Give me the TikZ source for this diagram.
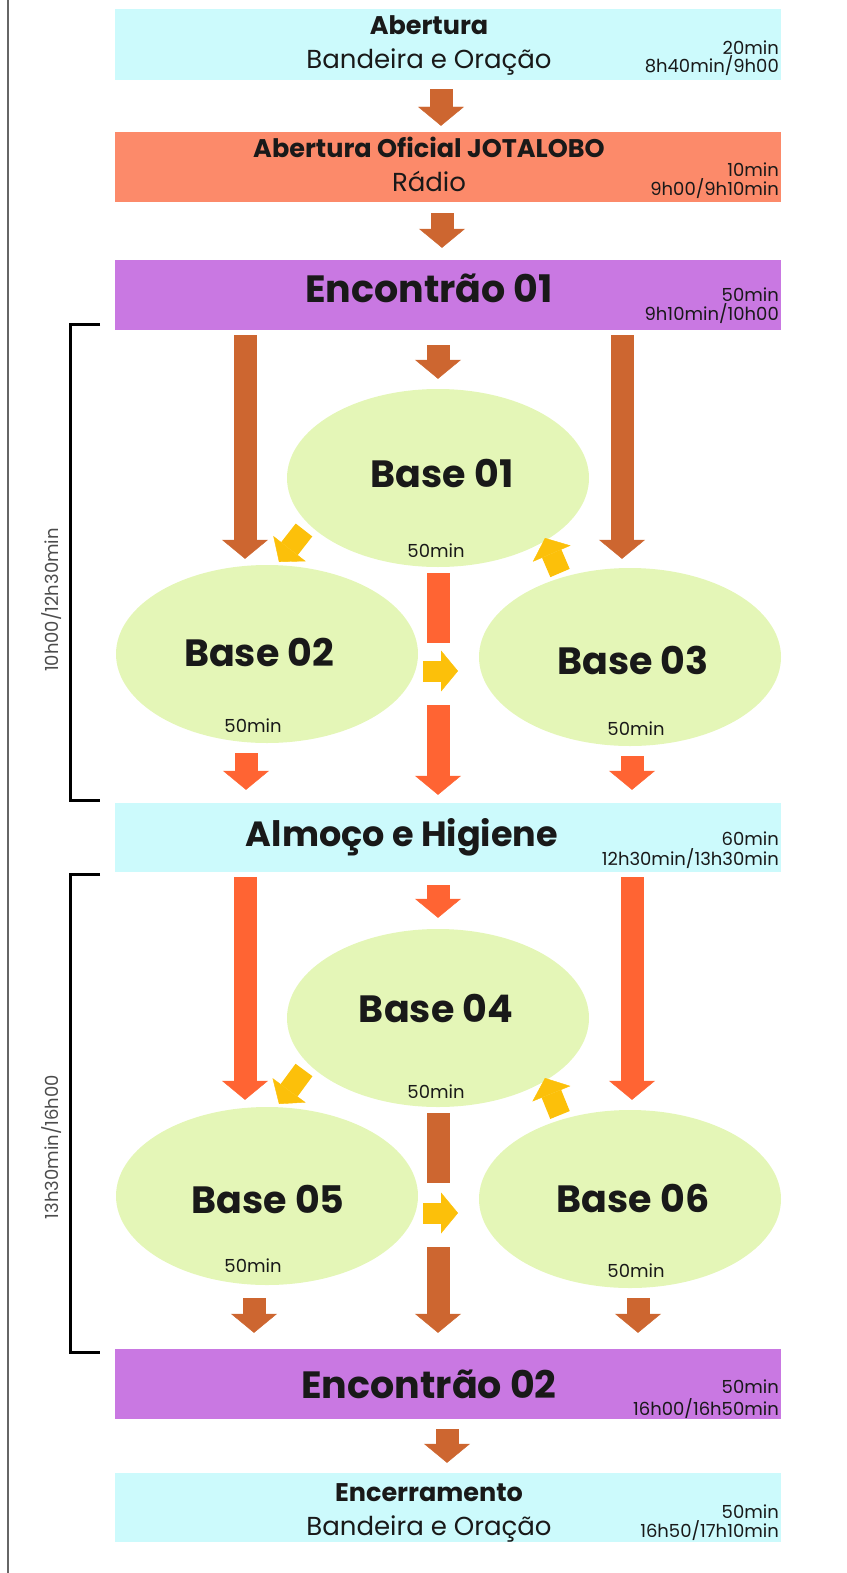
\documentclass[tikz,border=0pt]{standalone}
\usepackage{fontspec}
\setmainfont{Poppins}
\usetikzlibrary{arrows.meta,shapes.geometric}

\definecolor{cyanbox}{HTML}{CCFAFC}
\definecolor{salmonbox}{HTML}{FC8A6A}
\definecolor{purplebox}{HTML}{C978E2}
\definecolor{greenbase}{HTML}{E4F6B7}
\definecolor{brownarrow}{HTML}{CD6630}
\definecolor{redarrow}{HTML}{FF6433}
\definecolor{yellowarrow}{HTML}{FCC00A}

\begin{document}
\begin{tikzpicture}[x=1pt, y=-1pt]
\useasboundingbox (0,0) rectangle (846,1573);
\draw[black!60, line width=1.5pt] (8,0) -- (8,1573);

% Caixas
\begin{scope}[
		every node/.style = {shape = rectangle, inner sep = 0pt,
		minimum width = 666pt, minimum height = 70pt}]
	\node[fill = cyanbox, minimum height = 71pt] (open) at (448,44.5) {};
	\node[fill = salmonbox] (jota) at (448,167) {};
	\node[fill = purplebox] (enc1) at (448,295) {};
	\node[fill = cyanbox, minimum height = 69pt] (almoco) at (448,837.5) {};
	\node[fill = purplebox] (enc2) at (448,1384) {};
	\node[fill = cyanbox, minimum height = 69pt] (close) at (448,1507.5) {};
\end{scope}

% Bases
\begin{scope}[
		every node/.style = {shape = ellipse, fill = greenbase, inner sep = 0pt,
		minimum width = 302pt, minimum height = 178pt}]
	\node (b1) at (438,478) {};
	\node (b2) at (267,654) {};
	\node (b3) at (630,657) {};
	\node (b4) at (438,1018) {};
	\node (b5) at (267,1196) {};
	\node (b6) at (630,1199) {};
\end{scope}

% Textos
\begin{scope}[
		every node/.style = {anchor = base, inner sep = 0pt, text = black!90},
		tit/.style = {font = \fontsize{25.5}{27}\selectfont\bfseries},
		sub/.style = {font = \fontsize{26}{28}\selectfont},
		head/.style = {font = \fontsize{38}{40}\selectfont\bfseries},
		tmin/.style = {anchor = base east, font = \fontsize{18}{20}\selectfont},
		mins/.style = {font = \fontsize{18}{20}\selectfont}]
	\node[tit] (openA) at (429,35) {Abertura};
	\node[sub] (openB) at (429,69) {Bandeira e Oração};
	\node[tmin] (openC) at (779,55) {20min};
	\node[tmin] (openD) at (779,73) {8h40min/9h00};
	\node[tit] (jotaA) at (429,158) {Abertura Oficial JOTALOBO};
	\node[sub] (jotaB) at (429,192) {Rádio};
	\node[tmin] (jotaC) at (779,177) {10min};
	\node[tmin] (jotaD) at (779,196) {9h00/9h10min};
	\node[head] (enc1A) at (429,302) {Encontrão 01};
	\node[tmin] (enc1C) at (779,301) {50min};
	\node[tmin] (enc1D) at (779,320) {9h10min/10h00};
	\node[head, font = \fontsize{35}{37}\selectfont\bfseries] (almocoA) at (402,846) {Almoço e Higiene};
	\node[tmin] (almocoC) at (779,845) {60min};
	\node[tmin] (almocoD) at (779,865) {12h30min/13h30min};
	\node[head] (enc2A) at (429,1398) {Encontrão 02};
	\node[tmin] (enc2C) at (779,1393) {50min};
	\node[tmin] (enc2D) at (779,1415) {16h00/16h50min};
	\node[tit] (closeA) at (429,1501) {Encerramento};
	\node[sub] (closeB) at (429,1535) {Bandeira e Oração};
	\node[tmin] (closeC) at (779,1518) {50min};
	\node[tmin] (closeD) at (779,1537) {16h50/17h10min};
	\node[head] (b1A) at (442,487) {Base 01};
	\node[head] (b2A) at (259,666) {Base 02};
	\node[head] (b3A) at (633,674) {Base 03};
	\node[head] (b4A) at (436,1022) {Base 04};
	\node[head] (b5A) at (268,1213) {Base 05};
	\node[head] (b6A) at (633,1212) {Base 06};
	\node[mins] (b1m) at (436,557) {50min};
	\node[mins] (b2m) at (253,732) {50min};
	\node[mins] (b3m) at (636,735) {50min};
	\node[mins] (b4m) at (436,1098) {50min};
	\node[mins] (b5m) at (253,1272) {50min};
	\node[mins] (b6m) at (636,1277) {50min};
\end{scope}

% Horarios
\draw[line width = 3pt] (100,324) -- (70,324) -- (70,800) -- (100,800);
\draw[line width = 3pt] (100,874) -- (70,874) -- (70,1352) -- (100,1352);
\node[rotate = 90, text = black!70, font = \fontsize{18}{20}\selectfont] (per1) at (52,600) {10h00/12h30min};
\node[rotate = 90, text = black!70, font = \fontsize{18}{20}\selectfont] (per2) at (52,1147) {13h30min/16h00};

% Setas
\coordinate (gap1a) at (438,643);
\coordinate (gap1b) at (438,705);
\coordinate (gap2a) at (438,1183);
\coordinate (gap2b) at (438,1247);
\begin{scope}[
		every edge/.style = {line width = 23pt,
		-{Triangle[length = 19pt, width = 46pt, line width = 0.4pt]}}]
	\path ([xshift=-7pt]open.south) edge[draw = brownarrow, shorten <= 9pt, shorten >= 6pt] ([xshift=-7pt]jota.north);
	\path ([xshift=-6pt]jota.south) edge[draw = brownarrow, shorten <= 11pt, shorten >= 12pt] ([xshift=-6pt]enc1.north);
	\path ([xshift=-203pt]enc1.south) edge[draw = brownarrow, shorten <= 5pt, shorten >= 6pt] ([xshift=-22pt]b2.north);
	\path ([xshift=174pt]enc1.south) edge[draw = brownarrow, shorten <= 5pt, shorten >= 9pt] ([xshift=-8pt]b3.north);
	\path ([xshift=-10pt]enc1.south) edge[draw = brownarrow, shorten <= 15pt, shorten >= 10pt] (b1.north);
	\path (b1.south) edge[draw = redarrow, -, shorten <= 6pt] (gap1a);
	\path (gap1b) edge[draw = redarrow, shorten >= 8pt] ([xshift=-10pt]almoco.north);
	\path ([xshift=-21pt]b2.south) edge[draw = redarrow, shorten <= 10pt, shorten >= 13pt] ([xshift=-202pt]almoco.north);
	\path ([xshift=2pt]b3.south) edge[draw = redarrow, shorten <= 10pt, shorten >= 13pt] ([xshift=184pt]almoco.north);
	\path ([xshift=-203pt]almoco.south) edge[draw = redarrow, shorten <= 5pt, shorten >= 7pt] ([xshift=-22pt]b5.north);
	\path ([xshift=184pt]almoco.south) edge[draw = redarrow, shorten <= 5pt, shorten >= 10pt] ([xshift=2pt]b6.north);
	\path ([xshift=-10pt]almoco.south) edge[draw = redarrow, shorten <= 13pt, shorten >= 11pt] (b4.north);
	\path (b4.south) edge[draw = brownarrow, -, shorten <= 6pt] (gap2a);
	\path (gap2b) edge[draw = brownarrow, shorten >= 16pt] ([xshift=-10pt]enc2.north);
	\path ([xshift=-13pt]b5.south) edge[draw = brownarrow, shorten <= 13pt, shorten >= 16pt] ([xshift=-194pt]enc2.north);
	\path ([xshift=8pt]b6.south) edge[draw = brownarrow, shorten <= 10pt, shorten >= 16pt] ([xshift=190pt]enc2.north);
	\path ([xshift=-1pt]enc2.south) edge[draw = brownarrow, shorten <= 10pt, shorten >= 10pt] ([xshift=-1pt]close.north);
\end{scope}

% Rodizio
\begin{scope}[
		every edge/.style = {draw = yellowarrow, line width = 21pt,
		-{Triangle[length = 17pt, width = 41pt, line width = 0.4pt]}}]
	\path ([shift={(-134,52)}]b1.center) edge ([shift={(12,-92)}]b2.center);
	\path ([shift={(156,17)}]b2.center) edge ([shift={(-172,14)}]b3.center);
	\path ([shift={(-70,-84)}]b3.center) edge ([shift={(107,60)}]b1.center);
	\path ([shift={(-134,52)}]b4.center) edge ([shift={(12,-92)}]b5.center);
	\path ([shift={(156,17)}]b5.center) edge ([shift={(-172,14)}]b6.center);
	\path ([shift={(-70,-84)}]b6.center) edge ([shift={(107,60)}]b4.center);
\end{scope}
\end{tikzpicture}
\end{document}
